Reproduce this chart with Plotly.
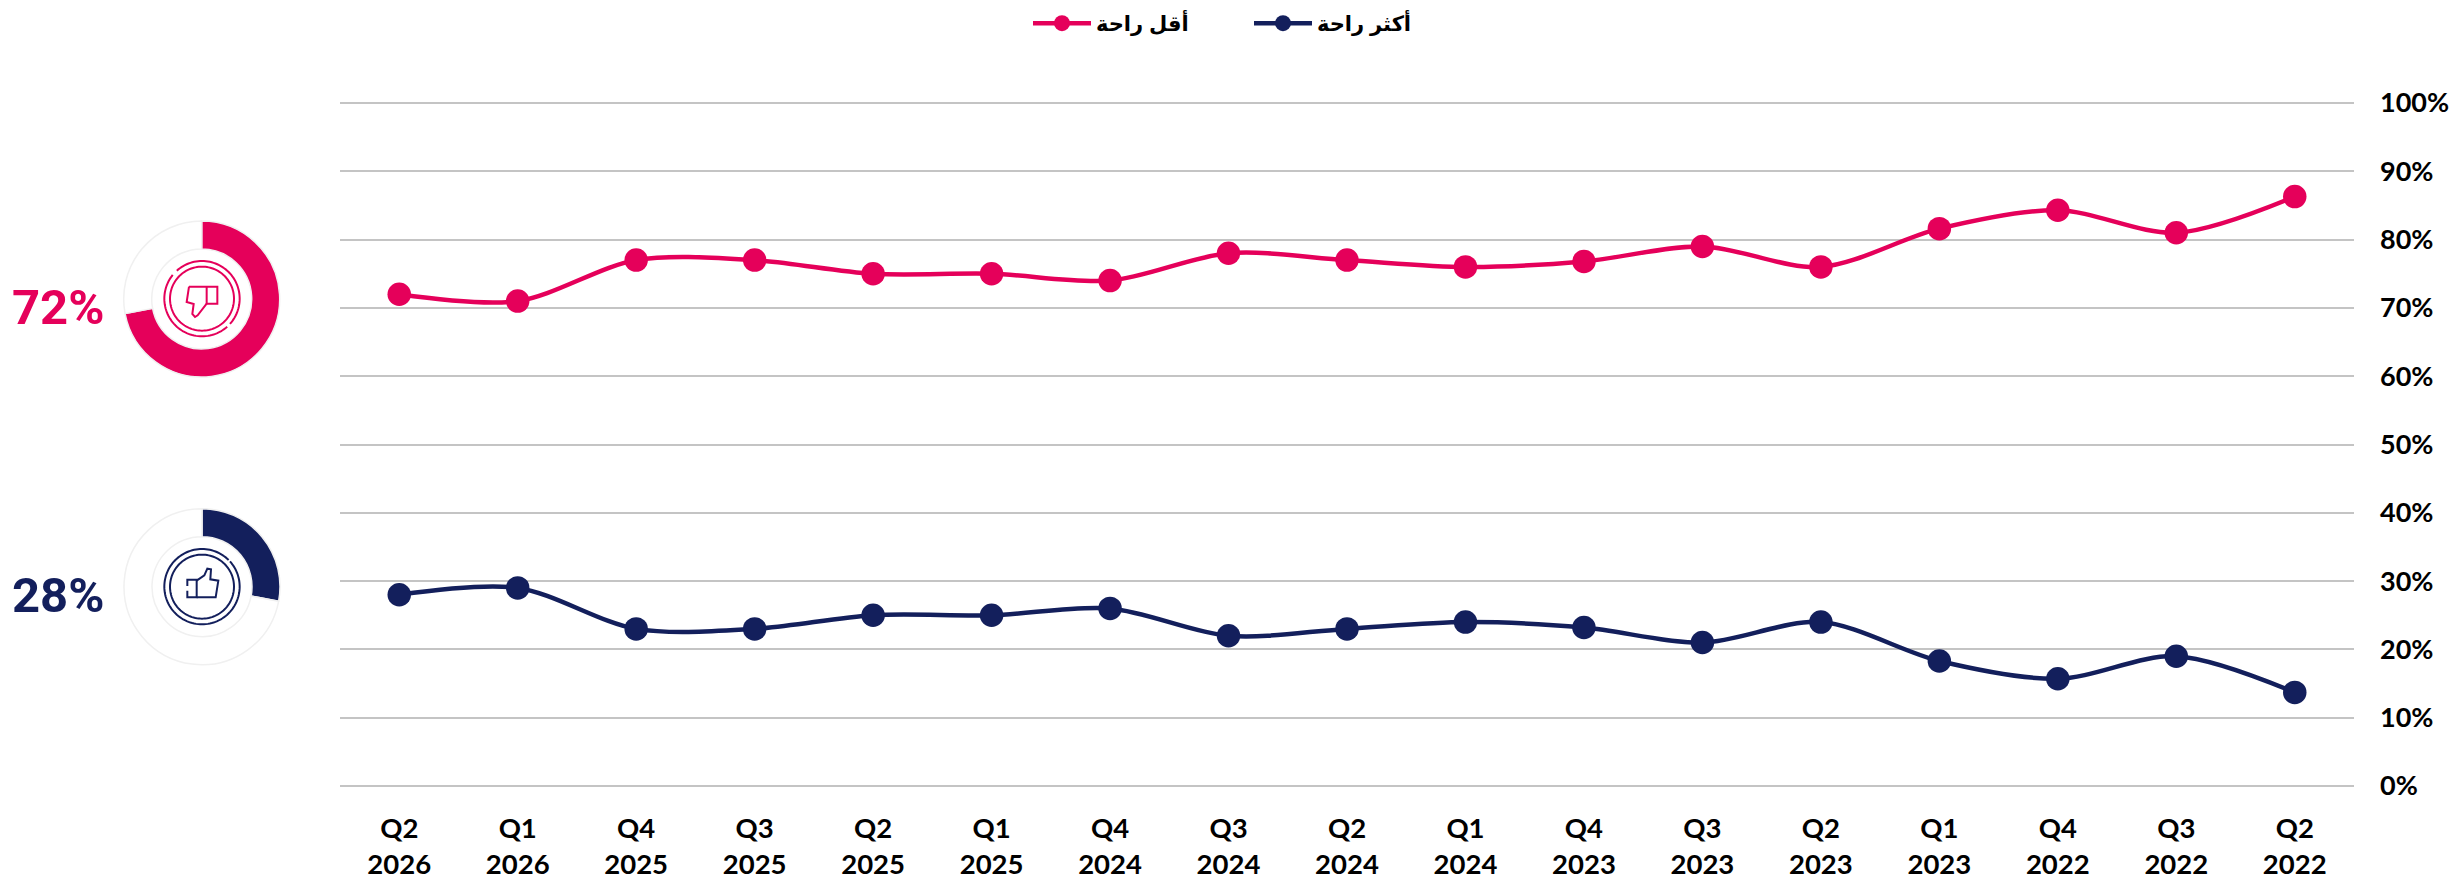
import numpy as np
import plotly.graph_objects as go

W, H = 2460, 881

quarters = ["Q2", "Q1", "Q4", "Q3", "Q2", "Q1", "Q4", "Q3", "Q2", "Q1", "Q4", "Q3", "Q2", "Q1", "Q4", "Q3", "Q2"]
years = ["2026", "2026", "2025", "2025", "2025", "2025", "2024", "2024", "2024", "2024", "2023", "2023", "2023", "2023", "2022", "2022", "2022"]
less_comfortable = [72, 71, 77, 77, 75, 75, 74, 78, 77, 76, 76.8, 79, 76, 81.6, 84.3, 81, 86.3]
more_comfortable = [28, 29, 23, 23, 25, 25, 26, 22, 23, 24, 23.2, 21, 24, 18.3, 15.7, 19, 13.7]
less_name = "أقل راحة"
more_name = "أكثر راحة"
donut_less = [72, 28]
donut_more = [28, 72]

PINK = "#E5005A"
NAVY = "#131F5C"
GRID = "#C4C4C4"
RING = "#F0F0F0"

categories = [f"{q}<br>{y}" for q, y in zip(quarters, years)]

fig = go.Figure()
for name, vals, col in [(less_name, less_comfortable, PINK), (more_name, more_comfortable, NAVY)]:
    fig.add_trace(go.Scatter(
        x=categories, y=vals, name=name, mode="lines+markers",
        line=dict(color=col, width=4.5, shape="spline", smoothing=0.9),
        marker=dict(color=col, size=23.5),
        hoverinfo="x+y",
    ))


def px_x(v):
    return v / W


def px_y(v):
    return 1 - v / H


def donut(values, col, cx, cy, r=78):
    fig.add_trace(go.Pie(
        values=values, sort=False, direction="clockwise", rotation=0, hole=50 / 78,
        marker=dict(colors=[col, "#FFFFFF"], line=dict(color=RING, width=1.5)),
        textinfo="none", showlegend=False, hoverinfo="skip",
        domain=dict(x=[px_x(cx - r), px_x(cx + r)], y=[px_y(cy + r), px_y(cy - r)]),
    ))


donut(donut_less, PINK, 201.7, 299)
donut(donut_more, NAVY, 202, 586.7)

shapes = []


def poly(points, col, ox, oy, close=False, width=2):
    d = "M" + " L".join(f"{px_x(ox + x / 3):.5f},{px_y(oy + y / 3):.5f}" for x, y in points)
    shapes.append(dict(type="path", xref="paper", yref="paper", path=d + (" Z" if close else ""),
                       line=dict(color=col, width=width), layer="above"))


def arc(cx, cy, r, a0, a1, col, ox, oy):
    t = np.radians(np.arange(a0, a1 + 1, 3))
    pts = [(cx + r * np.sin(a), cy - r * np.cos(a)) for a in t]
    poly(pts, col, ox, oy)


# thumbs-down icon
ox, oy = 155, 252
arc(141, 140, 113, -42, 132, PINK, ox, oy)
arc(141, 140, 113, 138, 310, PINK, ox, oy)
arc(141, 140, 96, 0, 360, PINK, ox, oy)
poly([(102, 104), (187, 104), (187, 155), (155, 155), (155, 104)], PINK, ox, oy)
poly([(102, 104), (95, 150), (116, 156), (112, 186), (120, 195), (128, 190), (155, 155)], PINK, ox, oy)

# thumbs-up icon
ox, oy = 155, 540
arc(141, 140, 113, 48, 405, NAVY, ox, oy)
arc(141, 140, 96, 0, 360, NAVY, ox, oy)
poly([(97, 138), (97, 119), (125, 119), (125, 172), (97, 172), (97, 152)], NAVY, ox, oy)
poly([(125, 122), (148, 106), (157, 86), (168, 88), (166, 118), (190, 122), (182, 172), (125, 172)], NAVY, ox, oy)

annotations = [
    dict(text="<b>72%</b>", x=px_x(58), y=px_y(307), xref="paper", yref="paper", showarrow=False,
         xanchor="center", yanchor="middle", font=dict(family="Roboto", size=49, color=PINK)),
    dict(text="<b>28%</b>", x=px_x(58), y=px_y(595), xref="paper", yref="paper", showarrow=False,
         xanchor="center", yanchor="middle", font=dict(family="Roboto", size=49, color=NAVY)),
]

fig.update_layout(
    width=W, height=H, autosize=False,
    margin=dict(l=0, r=0, t=0, b=0),
    paper_bgcolor="white", plot_bgcolor="white",
    showlegend=True,
    legend=dict(orientation="h", x=1028 / W, y=1 - 3 / H, xanchor="left", yanchor="top",
                itemwidth=58, entrywidth=148, entrywidthmode="pixels", traceorder="normal",
                font=dict(family="Liberation Sans, DejaVu Sans", size=21, color="black", weight=700),
                bgcolor="rgba(0,0,0,0)", itemclick=False, itemdoubleclick=False),
    xaxis=dict(domain=[340 / W, 2354 / W], type="category", categoryorder="array", categoryarray=categories,
               range=[-0.5, 16.5], autorange=False,
               showgrid=False, zeroline=False, showline=False, ticks="", automargin=False,
               ticklabelstandoff=20,
               tickfont=dict(family="Lato", size=27.5, color="black", weight=700)),
    yaxis=dict(domain=[(95 - 3.4) / H, 1 - (103 - 3.4) / H], range=[-0.5, 100.5], side="right",
               tick0=0, dtick=10, ticksuffix="%",
               showgrid=True, gridcolor=GRID, gridwidth=2, zeroline=False, showline=False, ticks="",
               automargin=False, ticklabelstandoff=25,
               tickfont=dict(family="Lato", size=27, color="black", weight=700)),
    shapes=shapes,
    annotations=annotations,
)

fig.write_html("out.html", config=dict(displayModeBar=False),
               post_script="document.body.style.margin='0';document.documentElement.style.overflow='hidden';")
